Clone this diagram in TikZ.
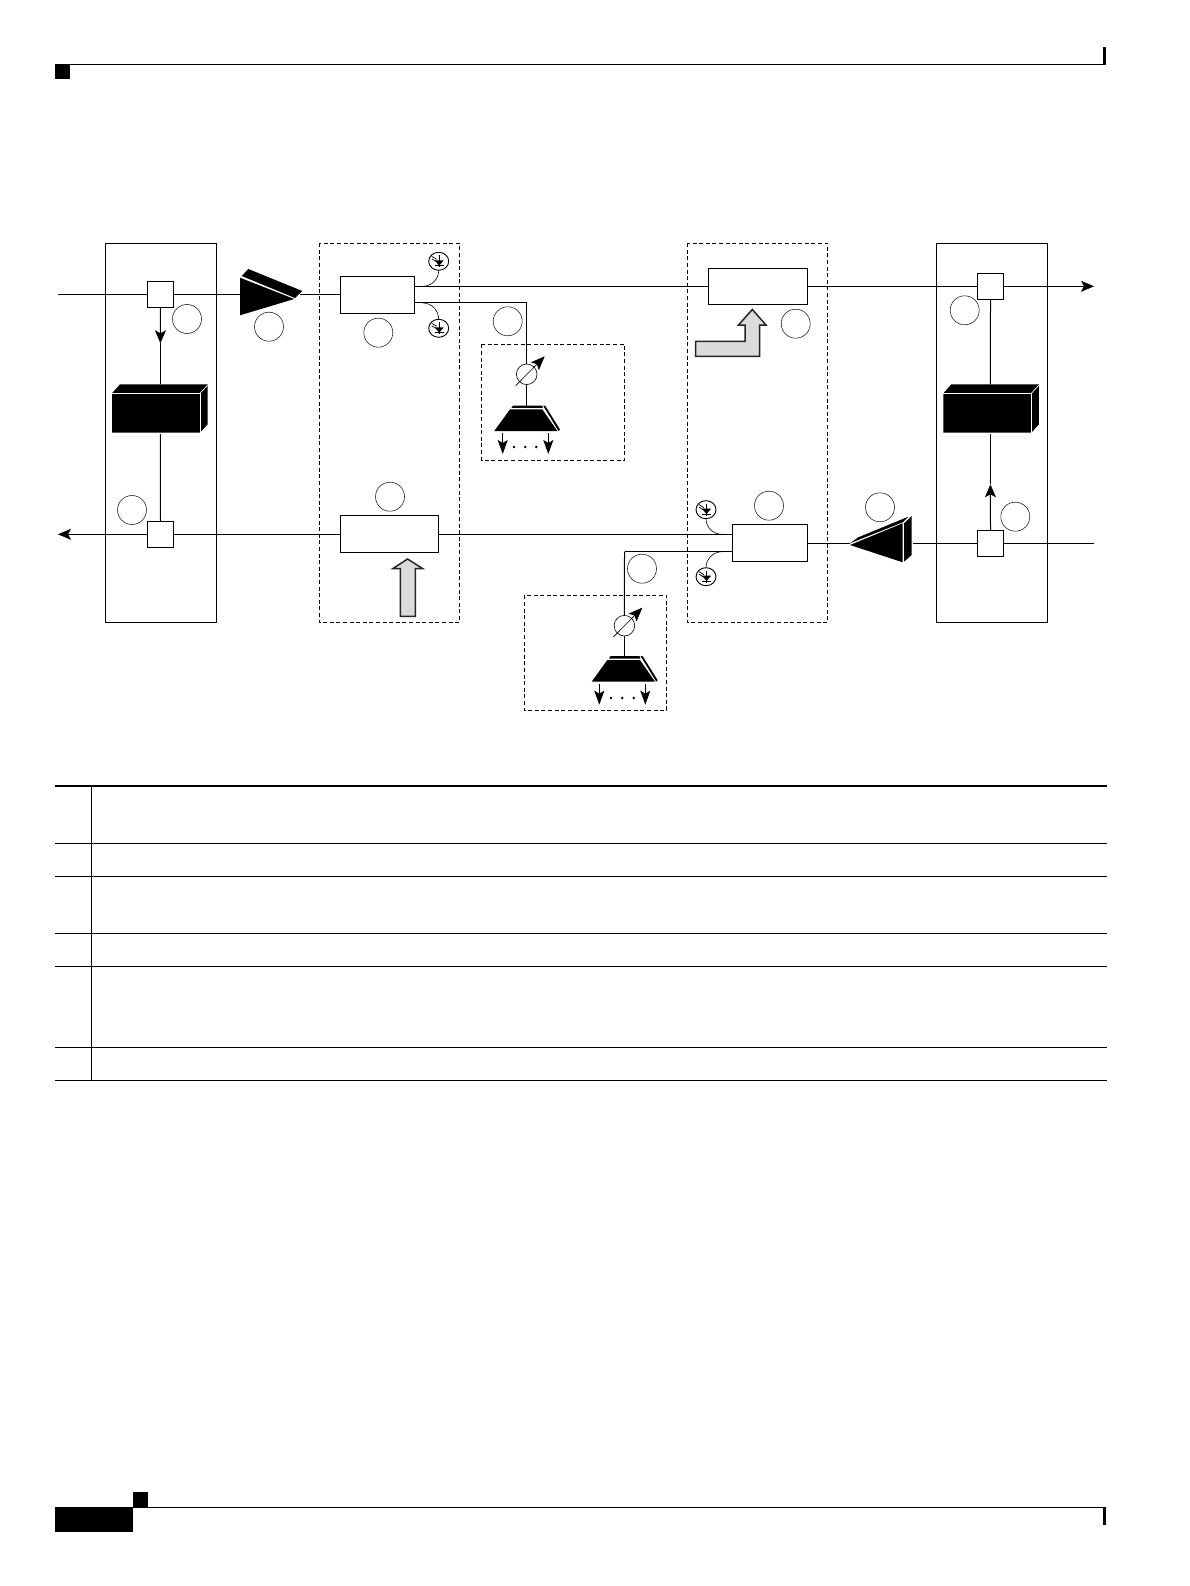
\documentclass[tikz,border=0pt]{standalone}
\usetikzlibrary{arrows.meta,shapes.geometric}
\definecolor{arrowgrey}{gray}{0.86}
\tikzset{
  wire/.style={line width=1pt},
  tipwire/.style={line width=1pt,-{Stealth[length=13pt,width=11pt,inset=3pt]}},
  smalltip/.style={line width=1pt,-{Stealth[length=14pt,width=10pt,inset=3pt]}},
  callout/.style={circle,draw=black!85,line width=0.6pt,minimum size=29pt,inner sep=0pt,outer sep=0pt},
  unitbox/.style={rectangle,draw=black,line width=0.9pt,fill=white,inner sep=0pt,outer sep=0pt},
  splitter/.style={unitbox,minimum width=26.4pt,minimum height=26pt},
  panel/.style={draw=black,line width=0.8pt},
  dashpanel/.style={draw=black,line width=0.7pt,dash pattern=on 4pt off 2.6pt},
  voa/.style={circle,draw=black,line width=0.6pt,fill=white,minimum size=20.6pt,inner sep=0pt,outer sep=0pt},
  pdcircle/.style={ellipse,draw=black,line width=0.9pt,fill=white,minimum width=20pt,minimum height=18pt,inner sep=0pt,outer sep=0pt},
  greyarrow/.style={draw=black!85,line width=1.5pt,fill=arrowgrey,line join=miter},
  gap/.style={draw=white,line width=0.7pt},
}
% photodiode mark, drawn over a pdcircle node
\newcommand{\pdmark}[1]{
  \fill (#1) ++(-4,-1) -- ++(9,0) -- ++(-4.5,5.5) -- cycle;
  \draw[line width=0.7pt] (#1) ++(-4,4.5) -- ++(9,0);
  \draw[line width=0.7pt] (#1) ++(0.5,-6) -- ++(0,12);
  \draw[line width=0.7pt] (#1) ++(-7,-5) -- ++(5,3);
  \draw[line width=0.7pt] (#1) ++(-7,-2.5) -- ++(4,2.5);
}
% block with a top and a side face
\newcommand{\blackblock}[2]{
  \fill (#1,#2) -- ++(8,-9) -- ++(87.5,0) -- ++(0,40.2) -- ++(-7.5,8.2) -- ++(-88,0) -- cycle;
  \draw[gap] (#1,#2) -- ++(88,0) -- ++(0,39.4);
  \draw[gap] (#1,#2) ++(88,0) -- ++(7.5,-8);
}
\begin{document}
\begin{tikzpicture}[x=1pt,y=-1pt]
\useasboundingbox (0,0) rectangle (1190,1586);

% page header and footer
\fill (55,64) rectangle (70,79);
\draw[line width=1.1pt] (70,64.6) -- (1106,64.6);
\fill (1103.3,46.7) rectangle (1106,65.2);
\fill (55,1507) rectangle (133,1531.7);
\fill (133,1492) rectangle (148,1507);
\draw[line width=1.1pt] (133,1507.4) -- (1106,1507.4);
\fill (1103.3,1507) rectangle (1106,1524.7);

% panels
\draw[panel] (105.3,243.3) rectangle (216.3,622.3);
\draw[panel] (936.3,243.3) rectangle (1047.3,622.3);
\draw[dashpanel] (319.3,243.3) rectangle (459.3,622.3);
\draw[dashpanel] (687.3,243.3) rectangle (827.7,622.3);
\draw[dashpanel] (481.7,344.3) rectangle (624.7,460.3);
\draw[dashpanel] (524.3,595.3) rectangle (666.7,710.3);

% units
\node[splitter](splitTL) at (160.5,294.3) {};
\node[splitter](splitBL) at (160.5,534.3) {};
\node[splitter](splitTR) at (990.5,286.3) {};
\node[splitter](splitBR) at (990.5,543.3) {};
\node[unitbox,minimum width=74pt,minimum height=37pt](boxA) at (377.3,294.8) {};
\node[unitbox,minimum width=98pt,minimum height=37pt](boxB) at (389.3,534.3) {};
\node[unitbox,minimum width=99.4pt,minimum height=36pt](boxC) at (758,286.3) {};
\node[unitbox,minimum width=75.4pt,minimum height=37pt](boxD) at (770,542.8) {};

% free ends and ports
\coordinate (inL) at (58,294.3);
\coordinate (outL) at (58,534.3);
\coordinate (outR) at (1094,286.3);
\coordinate (inR) at (1094,543.3);
\coordinate (ampLin) at (240,294.3);
\coordinate (ampLout) at (300,294.3);
\coordinate (ampRin) at (912.7,543.3);
\coordinate (ampRout) at (850,543.3);
\coordinate (tapTop) at (414.3,303);
\coordinate (tapCorner) at (526.7,303);
\coordinate (lineTopA) at (414.3,286.3);
\coordinate (lineBotD) at (732.3,534.3);
\coordinate (tapBot) at (732.3,551.7);
\coordinate (tapBotCorner) at (624.5,551.7);
\coordinate (tipTL) at (160.4,343.3);
\coordinate (blockTLtop) at (160.4,384.3);
\coordinate (blockTLbot) at (160.4,434);
\coordinate (tipBR) at (990.4,484.3);
\coordinate (blockTRtop) at (990.4,384.3);
\coordinate (blockTRbot) at (990.4,434);

% main lines
\draw[wire] (inL) to (splitTL);
\draw[wire] (splitTL) to (ampLin);
\draw[wire] (ampLout) to (boxA.west |- ampLout);
\draw[wire] (lineTopA) to (boxC.west);
\draw[wire] (boxC.east) to (splitTR);
\draw[tipwire] (splitTR) to (outR);
\draw[wire] (inR) to (splitBR);
\draw[wire] (splitBR) to (ampRin);
\draw[wire] (ampRout) to (boxD.east |- ampRout);
\draw[wire] (lineBotD) to (boxB.east |- lineBotD);
\draw[wire] (boxB.west) to (splitBL);
\draw[tipwire] (splitBL) to (outL);
\draw[wire] (tapTop) to (tapCorner);
\draw[wire] (tapBot) to (tapBotCorner);

% lines into the blocks
\draw[tipwire] (splitTL.south) to (tipTL);
\draw[wire] (tipTL) to (blockTLtop);
\draw[wire] (blockTLbot) to (splitBL.north);
\draw[tipwire] (splitBR.north) to (tipBR);
\draw[wire] (tipBR) to (blockTRbot);
\draw[wire] (splitTR.south) to (blockTRtop);
\blackblock{112}{393.3}
\blackblock{943.3}{393.3}

% amplifiers
\fill (240,277.7) -- (294.3,299) -- (240,315.3) -- cycle;
\fill (241.7,276) -- (248.3,269) -- (302.3,291) -- (295,298) -- cycle;
\fill (850,545) -- (902.7,523.3) -- (902.7,562.3) -- cycle;
\fill (850,543.3) -- (858.3,537.3) -- (908.3,516.7) -- (902.7,522.3) -- cycle;
\fill (904,523.3) -- (911.7,516) -- (911.7,555) -- (904,561.7) -- cycle;

% attenuators and demux
\node[voa](voaT) at (526.7,374.3) {};
\node[voa](voaB) at (624.4,625.7) {};
\coordinate (demuxT) at (526.7,405.5);
\coordinate (demuxB) at (624.4,656.7);
\draw[wire] (tapCorner) to (voaT.north);
\draw[wire] (voaT.south) to (demuxT);
\draw[wire] (tapBotCorner) to (voaB.north);
\draw[wire] (voaB.south) to (demuxB);
\draw[line width=0.6pt,-{Stealth[length=14pt,width=11pt,inset=3pt]}] (515.7,385.7) to (544.7,356.3);
\draw[line width=0.6pt,-{Stealth[length=14pt,width=11pt,inset=3pt]}] (613.4,637) to (642.4,607.6);

\fill (494.3,431) -- (510,409.3) -- (542.3,409.3) -- (557.3,431) -- cycle;
\fill (511.5,407.8) -- (513,405.5) -- (542,405.5) -- (542.8,407.8) -- cycle;
\fill (543,405.5) -- (545,405.5) -- (560,429.5) -- (558.5,431) -- cycle;
\fill (591.7,681.7) -- (607.3,660) -- (640,660) -- (655,681.7) -- cycle;
\fill (609,658.5) -- (610.5,656.2) -- (639.5,656.2) -- (640.5,658.5) -- cycle;
\fill (640.7,656.2) -- (642.7,656.2) -- (657.7,680.2) -- (656.2,681.7) -- cycle;

\coordinate (dmT1a) at (502.7,433.3);
\coordinate (dmT1b) at (502.7,454);
\coordinate (dmT2a) at (548.3,433.3);
\coordinate (dmT2b) at (548.3,454);
\coordinate (dmB1a) at (599.3,684.3);
\coordinate (dmB1b) at (599.3,704.7);
\coordinate (dmB2a) at (645.3,684.3);
\coordinate (dmB2b) at (645.3,704.7);
\draw[smalltip] (dmT1a) to (dmT1b);
\draw[smalltip] (dmT2a) to (dmT2b);
\draw[smalltip] (dmB1a) to (dmB1b);
\draw[smalltip] (dmB2a) to (dmB2b);
\foreach \x in {514,525.3,536.3} \fill (\x,447) circle (1.4pt);
\foreach \x in {611,622.3,633.7} \fill (\x,698) circle (1.4pt);

% photodiodes
\node[pdcircle](pdA) at (438.7,261.3) {};
\node[pdcircle](pdB) at (438.7,328.3) {};
\node[pdcircle](pdC) at (706,509.7) {};
\node[pdcircle](pdD) at (706,576.7) {};
\pdmark{pdA}
\pdmark{pdB}
\pdmark{pdC}
\pdmark{pdD}
\coordinate (pdAfoot) at (423,286.3);
\coordinate (pdBfoot) at (423,303);
\coordinate (pdCfoot) at (722,534.3);
\coordinate (pdDfoot) at (722,551.7);
\draw[line width=0.6pt] (pdAfoot) to[out=0,in=270] (pdA.south);
\draw[line width=0.6pt] (pdBfoot) to[out=0,in=90] (pdB.north);
\draw[line width=0.6pt] (pdCfoot) to[out=180,in=270] (pdC.south);
\draw[line width=0.6pt] (pdDfoot) to[out=180,in=90] (pdD.north);

% grey arrows
\draw[greyarrow] (400.4,616.3) -- (400.4,568.5) -- (393,568.5) -- (407.6,559) -- (422.5,568.5) -- (415.3,568.5) -- (415.3,616.3) -- cycle;
\draw[greyarrow] (695.7,341.4) -- (745,341.4) -- (745,325) -- (738.5,325) -- (752.3,309.5) -- (766,325) -- (759.5,325) -- (759.5,356.3) -- (695.7,356.3) -- cycle;

% callouts
\node[callout](c1) at (187,319) {};
\node[callout](c2) at (269,326.7) {};
\node[callout](c3) at (378.3,332.7) {};
\node[callout](c4) at (507.7,321.3) {};
\node[callout](c5) at (795.7,323.7) {};
\node[callout](c6) at (964.7,310.3) {};
\node[callout](c7) at (132,510) {};
\node[callout](c8) at (390,496.7) {};
\node[callout](c9) at (769,505.7) {};
\node[callout](c10) at (880,507.3) {};
\node[callout](c11) at (1015.3,516.7) {};
\node[callout](c12) at (642,568.7) {};

% table rules
\draw[line width=2pt] (55,785.7) -- (1107,785.7);
\foreach \y in {843,876.3,933.3,966.3,1047.3,1080.3}
  \draw[line width=1pt] (55,\y) -- (1107,\y);
\draw[line width=1pt] (91.7,785.7) -- (91.7,1080.3);

\end{tikzpicture}
\end{document}
